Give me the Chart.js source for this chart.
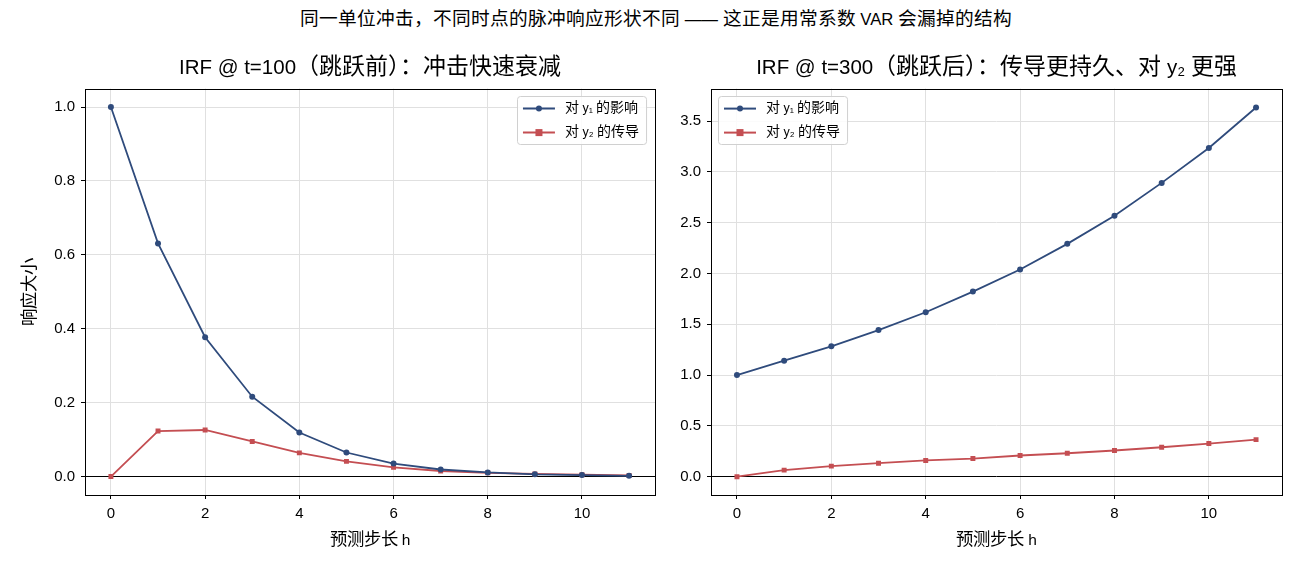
<!DOCTYPE html>
<html>
<head>
<meta charset="utf-8">
<script src="https://cdn.jsdelivr.net/npm/chart.js@4/dist/chart.umd.min.js"></script>
<style>
  /* CJK glyphs in the reference run a bit wider than the latin text */
  @font-face {
    font-family: 'CJKWide';
    src: local('Noto Sans CJK SC'), local('Noto Sans CJK SC Regular'), local('NotoSansCJKsc-Regular'), local('NotoSansCJKSC-Regular');
    unicode-range: U+2E80-2FFF, U+3000-303F, U+3040-9FFF, U+FF00-FFEF;
    size-adjust: 112%;
  }
  body { margin: 0; width: 1300px; height: 572px; background: #fff; position: relative; overflow: hidden; }
  #suptitle { position: absolute; left: 6px; top: 10px; width: 1300px; text-align: center; font: 16.7px/20px "Liberation Sans", CJKWide, "Noto Sans CJK SC", sans-serif; color: #000; }
  .box { position: absolute; top: 0; height: 572px; }
  #leftBox { left: 0; width: 665px; }
  #rightBox { left: 660px; width: 640px; }
</style>
</head>
<body>
<div id="suptitle">同一单位冲击，不同时点的脉冲响应形状不同 —— 这正是用常系数 VAR 会漏掉的结构</div>
<div class="box" id="leftBox"><canvas id="chartPre"></canvas></div>
<div class="box" id="rightBox"><canvas id="chartPost"></canvas></div>
<script>
const FONT = '"Liberation Sans", CJKWide, "Noto Sans CJK SC", sans-serif'

// forecast horizons
const horizons = [0, 1, 2, 3, 4, 5, 6, 7, 8, 9, 10, 11]
// t=100 (before the jump)
const preY1 = [1.0, 0.631, 0.377, 0.216, 0.119, 0.065, 0.035, 0.019, 0.011, 0.006, 0.004, 0.002]
const preY2 = [0, 0.123, 0.126, 0.095, 0.064, 0.041, 0.025, 0.015, 0.010, 0.007, 0.005, 0.003]
// t=300 (after the jump)
const postY1 = [1.0, 1.142, 1.283, 1.443, 1.619, 1.822, 2.040, 2.292, 2.569, 2.892, 3.235, 3.634]
const postY2 = [0, 0.065, 0.104, 0.133, 0.160, 0.179, 0.209, 0.231, 0.258, 0.290, 0.326, 0.365]

const xTicks = [0, 2, 4, 6, 8, 10]
const preTicks = [0, 0.2, 0.4, 0.6, 0.8, 1.0]
const postTicks = [0, 0.5, 1.0, 1.5, 2.0, 2.5, 3.0, 3.5]

const labelY1 = '对 y₁ 的影响'
const labelY2 = '对 y₂ 的传导'
const BLUE = '#2f4b7c'
const RED = '#c44e52'

// box around the plot area
const framePlugin = {
  id: 'frame',
  afterDatasetsDraw(chart) {
    const { ctx, chartArea: a } = chart
    ctx.save()
    ctx.strokeStyle = '#000'
    ctx.lineWidth = 1
    ctx.strokeRect(Math.round(a.left) + 0.5, Math.round(a.top) + 0.5, Math.round(a.width), Math.round(a.height))
    ctx.restore()
  },
}

// legend drawn inside the plot area, matplotlib style
const insideLegend = {
  id: 'insideLegend',
  afterDatasetsDraw(chart, args, opts) {
    const { ctx, chartArea } = chart
    const sets = chart.data.datasets
    ctx.save()
    ctx.font = '12.5px ' + FONT
    const textW = Math.max(...sets.map((d) => ctx.measureText(d.label).width))
    const w = 6 + 32 + 10 + textW + 7
    const h = 48
    const x = opts.side === 'right' ? chartArea.right - 9 - w : chartArea.left + 7
    const y = chartArea.top + 7
    ctx.fillStyle = 'rgba(255,255,255,0.85)'
    ctx.strokeStyle = '#d0d0d0'
    ctx.lineWidth = 1
    ctx.beginPath()
    ctx.roundRect(Math.round(x) + 0.5, Math.round(y) + 0.5, w, h, 3)
    ctx.fill()
    ctx.stroke()
    sets.forEach((d, i) => {
      const cy = y + 13 + i * 24
      ctx.strokeStyle = d.borderColor
      ctx.lineWidth = 2
      ctx.beginPath()
      ctx.moveTo(x + 6, cy)
      ctx.lineTo(x + 38, cy)
      ctx.stroke()
      ctx.fillStyle = d.borderColor
      if (d.pointStyle === 'rect') {
        ctx.fillRect(x + 22 - 3.5, cy - 3.5, 7, 7)
      } else {
        ctx.beginPath()
        ctx.arc(x + 22, cy, 3, 0, Math.PI * 2)
        ctx.fill()
      }
      ctx.fillStyle = '#000'
      ctx.textBaseline = 'middle'
      ctx.textAlign = 'left'
      ctx.fillText(d.label, x + 48, cy)
    })
    ctx.restore()
  },
}

function series(values, label, color, style) {
  return {
    label: label,
    data: horizons.map((h, i) => ({ x: h, y: values[i] })),
    borderColor: color,
    backgroundColor: color,
    borderWidth: 1.8,
    pointStyle: style,
    pointRadius: style === 'rect' ? 3.5 : 3,
    pointBorderWidth: 0,
    tension: 0,
  }
}

function makeChart(id, cfg) {
  return new Chart(document.getElementById(id), {
    type: 'line',
    data: {
      datasets: [
        series(cfg.y1, labelY1, BLUE, 'circle'),
        series(cfg.y2, labelY2, RED, 'rect'),
      ],
    },
    options: {
      responsive: true,
      maintainAspectRatio: false,
      animation: false,
      layout: { padding: { left: cfg.padLeft, right: cfg.padRight, top: 0, bottom: 17 } },
      scales: {
        x: {
          type: 'linear',
          min: -0.55,
          max: 11.55,
          afterBuildTicks: (scale) => { scale.ticks = xTicks.map((v) => ({ value: v })) },
          afterFit: (scale) => { scale.height = 60 },
          grid: { color: '#e0e0e0', lineWidth: 1, tickColor: '#000', tickLength: 4 },
          border: { display: false },
          ticks: { color: '#000', font: { family: FONT, size: 15 }, padding: 6, callback: (v) => String(v) },
          title: { display: true, text: '预测步长 h', color: '#000', font: { family: FONT, size: 15.5 }, padding: { top: 0, bottom: 5 } },
        },
        y: {
          min: cfg.yMin,
          max: cfg.yMax,
          afterBuildTicks: (scale) => { scale.ticks = cfg.ticks.map((v) => ({ value: v })) },
          afterFit: (scale) => { scale.width = cfg.yWidth },
          grid: {
            color: (c) => (c.tick && c.tick.value === 0 ? '#000' : '#e0e0e0'),
            lineWidth: 1,
            tickColor: '#000',
            tickLength: 4,
          },
          border: { display: false },
          ticks: { color: '#000', font: { family: FONT, size: 15 }, padding: 6, callback: (v) => v.toFixed(1) },
          title: { display: cfg.yTitle !== '', text: cfg.yTitle, color: '#000', font: { family: FONT, size: 15.5 }, padding: { top: 0, bottom: 0 } },
        },
      },
      plugins: {
        legend: { display: false },
        tooltip: { enabled: false },
        title: {
          display: true,
          fullSize: false, // center over the plot area, not the whole canvas
          text: cfg.title,
          color: '#000',
          font: { family: FONT, size: 20.5, weight: 'normal' },
          padding: { top: 56, bottom: 8 },
        },
        insideLegend: { side: cfg.legendSide },
      },
    },
    plugins: [framePlugin, insideLegend],
  })
}

const charts = [
  makeChart('chartPre', {
    y1: preY1,
    y2: preY2,
    yMin: -0.05,
    yMax: 1.05,
    ticks: preTicks,
    yTitle: '响应大小',
    yWidth: 64,
    padLeft: 21,
    padRight: 10,
    legendSide: 'right',
    title: 'IRF @ t=100（跳跃前）：冲击快速衰减',
  }),
  makeChart('chartPost', {
    y1: postY1,
    y2: postY2,
    yMin: -0.18,
    yMax: 3.82,
    ticks: postTicks,
    yTitle: '',
    yWidth: 41,
    padLeft: 10,
    padRight: 18,
    legendSide: 'left',
    title: 'IRF @ t=300（跳跃后）：传导更持久、对 y₂ 更强',
  }),
]

// redraw once the widened CJK face is ready
document.fonts.load('20px CJKWide', '冲击响应').then(() => {
  charts.forEach((c) => c.update())
})
</script>
</body>
</html>
